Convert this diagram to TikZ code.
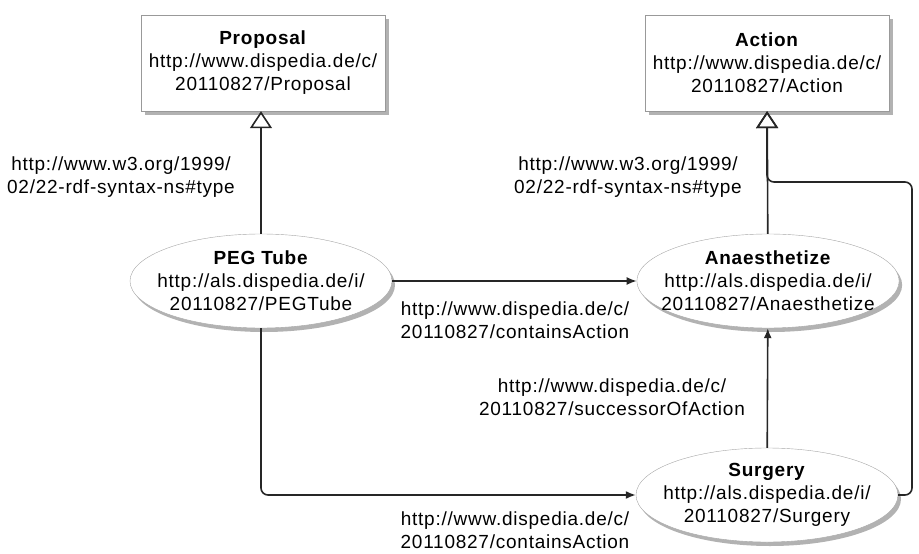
\documentclass[tikz,border=0pt]{standalone}
\usepackage{fontspec}
\setmainfont{Liberation Sans}[LetterSpace=4]
\usetikzlibrary{arrows.meta,positioning,shapes.geometric,shadows}

\begin{document}
\begin{tikzpicture}[
  x=1pt, y=1pt,
  font=\fontsize{19}{23}\selectfont,
  cls/.style={draw=black!40, fill=white, align=center, minimum width=244pt, minimum height=96pt,
    drop shadow={shadow xshift=4pt, shadow yshift=-4pt, fill=black, opacity=0.3}},
  inst/.style={ellipse, draw=black!35, fill=white, align=center, inner ysep=0pt, inner xsep=-14pt,
    minimum width=262pt, minimum height=94pt,
    drop shadow={shadow xshift=3pt, shadow yshift=-4pt, fill=black, opacity=0.3}},
  lbl/.style={align=center, text=black},
  arr/.style={-{Latex[length=10pt,width=8pt]}, line width=1.6pt, black!85},
  typ/.style={-{Triangle[open,length=17pt,width=22pt]}, line width=1.6pt, black!85}
]
  \useasboundingbox (0,0) rectangle (919,-554);

  % classes
  \node[cls] (prop) at (263,-63) {\textbf{Proposal}\\http://www.dispedia.de/c/\\20110827/Proposal};
  \node[cls] (act) at (767,-63) {\textbf{Action}\\http://www.dispedia.de/c/\\20110827/Action};

  % instances
  \node[inst] (peg) at (261,-281) {\textbf{PEG Tube}\\http://als.dispedia.de/i/\\20110827/PEGTube};
  \node[inst] (ana) at (768,-281) {\textbf{Anaesthetize}\\http://als.dispedia.de/i/\\20110827/Anaesthetize};
  \node[inst] (sur) at (767,-495) {\textbf{Surgery}\\http://als.dispedia.de/i/\\20110827/Surgery};

  \coordinate (bend) at (912,-182);

  % rdf:type
  \draw[typ] (peg.north) -- (peg.north |- prop.south);
  \draw[typ] (ana) -- (act);
  \draw[typ, rounded corners=7pt] (sur.east) -| (bend) -- (act.south |- bend) -- (act.south);

  % properties
  \draw[arr] (peg) -- (ana);
  \draw[arr] (sur) -- (ana);
  \draw[arr, rounded corners=7pt] (peg.south) |- (sur.west);

  \node[lbl] (typel) at (121,-177) {http://www.w3.org/1999/\\02/22-rdf-syntax-ns\#type};
  \node[lbl] (typer) at (628,-177) {http://www.w3.org/1999/\\02/22-rdf-syntax-ns\#type};
  \node[lbl] (conta) at (515,-320) {http://www.dispedia.de/c/\\20110827/containsAction};
  \node[lbl] (succ) at (612,-397) {http://www.dispedia.de/c/\\20110827/successorOfAction};
  \node[lbl] (contb) at (515,-530) {http://www.dispedia.de/c/\\20110827/containsAction};
\end{tikzpicture}
\end{document}
